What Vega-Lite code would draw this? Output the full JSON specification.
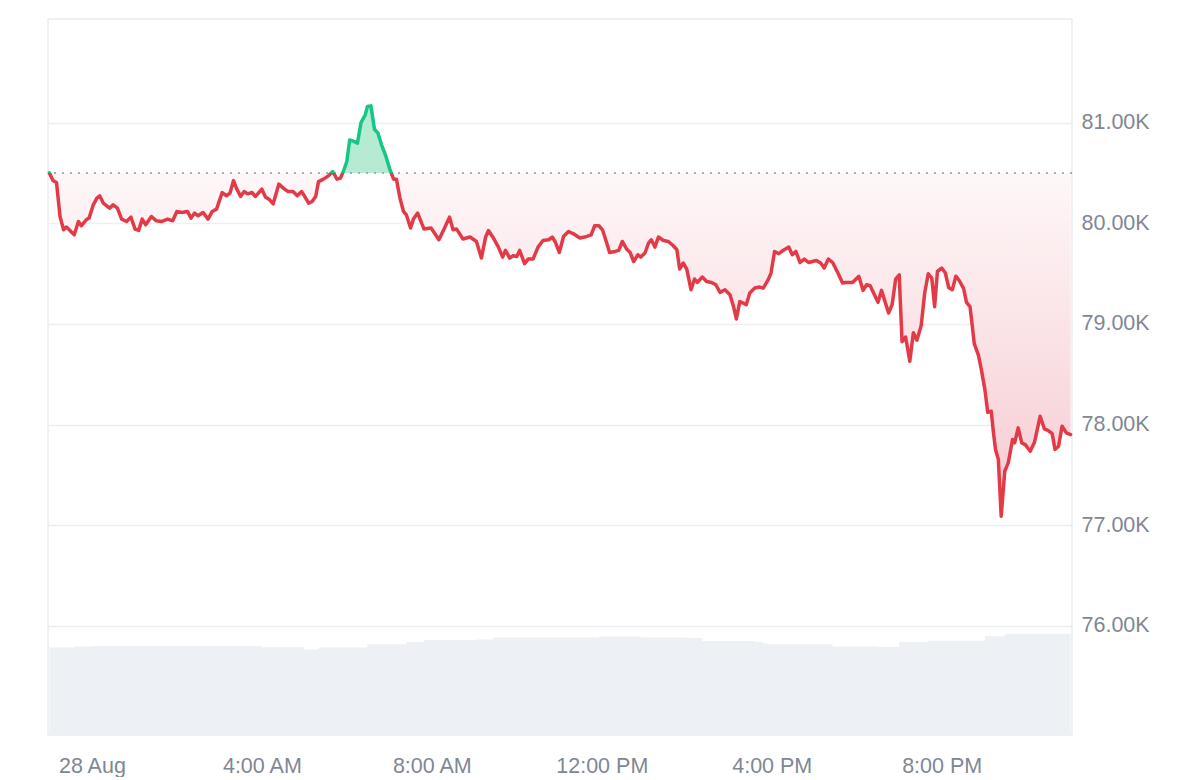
{
  "$schema": "https://vega.github.io/schema/vega-lite/v6.json",
  "width": 1024,
  "height": 716,
  "padding": {"left": 47, "top": 19, "right": 0, "bottom": 0},
  "background": "white",
  "config": {
    "font": "Liberation Sans",
    "view": {"stroke": "#e9ebee", "strokeWidth": 1.5}
  },
  "data": {
    "values": [
      {"t": "2025-08-27T23:00", "p": 80500, "v": 87.4}, {"t": "2025-08-27T23:05", "p": 80424, "v": 87.4},
      {"t": "2025-08-27T23:10", "p": 80405, "v": 87.4}, {"t": "2025-08-27T23:15", "p": 80067, "v": 87.4},
      {"t": "2025-08-27T23:20", "p": 79935, "v": 87.4}, {"t": "2025-08-27T23:24", "p": 79962, "v": 87.4},
      {"t": "2025-08-27T23:29", "p": 79928, "v": 87.4}, {"t": "2025-08-27T23:35", "p": 79885, "v": 88.5},
      {"t": "2025-08-27T23:41", "p": 80017, "v": 88.5}, {"t": "2025-08-27T23:45", "p": 79975, "v": 88.5},
      {"t": "2025-08-27T23:52", "p": 80034, "v": 88.5}, {"t": "2025-08-27T23:56", "p": 80051, "v": 88.5},
      {"t": "2025-08-28T00:02", "p": 80183, "v": 89}, {"t": "2025-08-28T00:07", "p": 80250, "v": 89},
      {"t": "2025-08-28T00:11", "p": 80273, "v": 89}, {"t": "2025-08-28T00:16", "p": 80200, "v": 89},
      {"t": "2025-08-28T00:25", "p": 80150, "v": 89}, {"t": "2025-08-28T00:30", "p": 80183, "v": 89},
      {"t": "2025-08-28T00:36", "p": 80150, "v": 89}, {"t": "2025-08-28T00:42", "p": 80041, "v": 89},
      {"t": "2025-08-28T00:49", "p": 80017, "v": 89}, {"t": "2025-08-28T00:55", "p": 80061, "v": 89},
      {"t": "2025-08-28T01:01", "p": 79942, "v": 89}, {"t": "2025-08-28T01:06", "p": 79928, "v": 89},
      {"t": "2025-08-28T01:11", "p": 80041, "v": 89}, {"t": "2025-08-28T01:16", "p": 79985, "v": 89},
      {"t": "2025-08-28T01:24", "p": 80067, "v": 89}, {"t": "2025-08-28T01:31", "p": 80024, "v": 89},
      {"t": "2025-08-28T01:38", "p": 80017, "v": 89}, {"t": "2025-08-28T01:47", "p": 80041, "v": 89},
      {"t": "2025-08-28T01:54", "p": 80024, "v": 89}, {"t": "2025-08-28T02:00", "p": 80117, "v": 89},
      {"t": "2025-08-28T02:07", "p": 80107, "v": 89}, {"t": "2025-08-28T02:15", "p": 80117, "v": 89},
      {"t": "2025-08-28T02:20", "p": 80051, "v": 89}, {"t": "2025-08-28T02:25", "p": 80101, "v": 89},
      {"t": "2025-08-28T02:30", "p": 80074, "v": 89}, {"t": "2025-08-28T02:37", "p": 80107, "v": 89},
      {"t": "2025-08-28T02:44", "p": 80041, "v": 89}, {"t": "2025-08-28T02:50", "p": 80117, "v": 89},
      {"t": "2025-08-28T02:56", "p": 80140, "v": 89}, {"t": "2025-08-28T03:04", "p": 80305, "v": 89},
      {"t": "2025-08-28T03:10", "p": 80273, "v": 89}, {"t": "2025-08-28T03:15", "p": 80299, "v": 89},
      {"t": "2025-08-28T03:20", "p": 80424, "v": 89}, {"t": "2025-08-28T03:24", "p": 80349, "v": 89},
      {"t": "2025-08-28T03:30", "p": 80266, "v": 89}, {"t": "2025-08-28T03:35", "p": 80315, "v": 89},
      {"t": "2025-08-28T03:40", "p": 80292, "v": 89}, {"t": "2025-08-28T03:46", "p": 80305, "v": 89},
      {"t": "2025-08-28T03:51", "p": 80266, "v": 89}, {"t": "2025-08-28T04:00", "p": 80339, "v": 87.7},
      {"t": "2025-08-28T04:05", "p": 80260, "v": 87.7}, {"t": "2025-08-28T04:11", "p": 80233, "v": 87.7},
      {"t": "2025-08-28T04:16", "p": 80193, "v": 87.7}, {"t": "2025-08-28T04:24", "p": 80389, "v": 87.7},
      {"t": "2025-08-28T04:32", "p": 80339, "v": 87.7}, {"t": "2025-08-28T04:37", "p": 80315, "v": 87.7},
      {"t": "2025-08-28T04:44", "p": 80315, "v": 87.7}, {"t": "2025-08-28T04:50", "p": 80273, "v": 87.7},
      {"t": "2025-08-28T04:56", "p": 80315, "v": 87.7}, {"t": "2025-08-28T05:00", "p": 80273, "v": 85.5},
      {"t": "2025-08-28T05:06", "p": 80200, "v": 85.5}, {"t": "2025-08-28T05:11", "p": 80216, "v": 85.5},
      {"t": "2025-08-28T05:16", "p": 80266, "v": 85.5}, {"t": "2025-08-28T05:20", "p": 80414, "v": 87.4},
      {"t": "2025-08-28T05:27", "p": 80438, "v": 87.4}, {"t": "2025-08-28T05:34", "p": 80471, "v": 87.4},
      {"t": "2025-08-28T05:40", "p": 80514, "v": 87.4}, {"t": "2025-08-28T05:46", "p": 80438, "v": 87.4},
      {"t": "2025-08-28T05:51", "p": 80448, "v": 87.4}, {"t": "2025-08-28T05:55", "p": 80514, "v": 87.4},
      {"t": "2025-08-28T06:00", "p": 80613, "v": 87.4}, {"t": "2025-08-28T06:04", "p": 80828, "v": 87.4},
      {"t": "2025-08-28T06:11", "p": 80811, "v": 87.4}, {"t": "2025-08-28T06:15", "p": 80796, "v": 87.4},
      {"t": "2025-08-28T06:20", "p": 81000, "v": 87.4}, {"t": "2025-08-28T06:26", "p": 81076, "v": 87.4},
      {"t": "2025-08-28T06:29", "p": 81159, "v": 90.7}, {"t": "2025-08-28T06:34", "p": 81166, "v": 90.7},
      {"t": "2025-08-28T06:39", "p": 80934, "v": 90.7}, {"t": "2025-08-28T06:44", "p": 80895, "v": 90.7},
      {"t": "2025-08-28T06:49", "p": 80779, "v": 90.7}, {"t": "2025-08-28T06:55", "p": 80669, "v": 90.7},
      {"t": "2025-08-28T07:01", "p": 80530, "v": 90.7}, {"t": "2025-08-28T07:06", "p": 80438, "v": 90.7},
      {"t": "2025-08-28T07:10", "p": 80438, "v": 90.7}, {"t": "2025-08-28T07:15", "p": 80250, "v": 90.7},
      {"t": "2025-08-28T07:20", "p": 80117, "v": 90.7}, {"t": "2025-08-28T07:24", "p": 80084, "v": 93},
      {"t": "2025-08-28T07:30", "p": 79952, "v": 93}, {"t": "2025-08-28T07:34", "p": 80041, "v": 93},
      {"t": "2025-08-28T07:40", "p": 80101, "v": 93}, {"t": "2025-08-28T07:49", "p": 79942, "v": 95},
      {"t": "2025-08-28T07:59", "p": 79952, "v": 95}, {"t": "2025-08-28T08:10", "p": 79836, "v": 95},
      {"t": "2025-08-28T08:18", "p": 79952, "v": 95}, {"t": "2025-08-28T08:25", "p": 80061, "v": 95},
      {"t": "2025-08-28T08:30", "p": 79935, "v": 95}, {"t": "2025-08-28T08:35", "p": 79942, "v": 95},
      {"t": "2025-08-28T08:44", "p": 79843, "v": 95}, {"t": "2025-08-28T08:54", "p": 79863, "v": 95},
      {"t": "2025-08-28T09:03", "p": 79819, "v": 95.5}, {"t": "2025-08-28T09:10", "p": 79654, "v": 95.5},
      {"t": "2025-08-28T09:16", "p": 79863, "v": 95.5}, {"t": "2025-08-28T09:20", "p": 79928, "v": 95.5},
      {"t": "2025-08-28T09:27", "p": 79853, "v": 97.4}, {"t": "2025-08-28T09:34", "p": 79763, "v": 97.4},
      {"t": "2025-08-28T09:40", "p": 79664, "v": 97.4}, {"t": "2025-08-28T09:44", "p": 79730, "v": 97.4},
      {"t": "2025-08-28T09:50", "p": 79654, "v": 97.4}, {"t": "2025-08-28T09:55", "p": 79677, "v": 97.4},
      {"t": "2025-08-28T10:00", "p": 79670, "v": 97.4}, {"t": "2025-08-28T10:04", "p": 79730, "v": 97.4},
      {"t": "2025-08-28T10:11", "p": 79598, "v": 97.4}, {"t": "2025-08-28T10:16", "p": 79644, "v": 97.4},
      {"t": "2025-08-28T10:23", "p": 79644, "v": 97.4}, {"t": "2025-08-28T10:30", "p": 79763, "v": 97.4},
      {"t": "2025-08-28T10:37", "p": 79829, "v": 97.4}, {"t": "2025-08-28T10:45", "p": 79836, "v": 97.4},
      {"t": "2025-08-28T10:50", "p": 79863, "v": 97.4}, {"t": "2025-08-28T10:54", "p": 79819, "v": 97.4},
      {"t": "2025-08-28T11:00", "p": 79710, "v": 97.4}, {"t": "2025-08-28T11:06", "p": 79869, "v": 97.4},
      {"t": "2025-08-28T11:13", "p": 79918, "v": 97.4}, {"t": "2025-08-28T11:20", "p": 79895, "v": 97.4},
      {"t": "2025-08-28T11:29", "p": 79853, "v": 97.4}, {"t": "2025-08-28T11:36", "p": 79863, "v": 97.4},
      {"t": "2025-08-28T11:45", "p": 79885, "v": 97.4}, {"t": "2025-08-28T11:50", "p": 79975, "v": 97.4},
      {"t": "2025-08-28T11:56", "p": 79975, "v": 98.4}, {"t": "2025-08-28T12:01", "p": 79935, "v": 98.4},
      {"t": "2025-08-28T12:07", "p": 79803, "v": 98.4}, {"t": "2025-08-28T12:11", "p": 79710, "v": 98.4},
      {"t": "2025-08-28T12:19", "p": 79720, "v": 98.4}, {"t": "2025-08-28T12:24", "p": 79730, "v": 98.4},
      {"t": "2025-08-28T12:29", "p": 79819, "v": 98.4}, {"t": "2025-08-28T12:35", "p": 79744, "v": 98.4},
      {"t": "2025-08-28T12:40", "p": 79710, "v": 98.4}, {"t": "2025-08-28T12:45", "p": 79620, "v": 98.4},
      {"t": "2025-08-28T12:51", "p": 79687, "v": 98.4}, {"t": "2025-08-28T12:55", "p": 79664, "v": 97.4},
      {"t": "2025-08-28T13:01", "p": 79704, "v": 97.4}, {"t": "2025-08-28T13:06", "p": 79803, "v": 97.4},
      {"t": "2025-08-28T13:10", "p": 79836, "v": 97.4}, {"t": "2025-08-28T13:15", "p": 79763, "v": 97.4},
      {"t": "2025-08-28T13:20", "p": 79863, "v": 97.4}, {"t": "2025-08-28T13:27", "p": 79829, "v": 97.4},
      {"t": "2025-08-28T13:34", "p": 79819, "v": 97.4}, {"t": "2025-08-28T13:41", "p": 79776, "v": 97.4},
      {"t": "2025-08-28T13:46", "p": 79737, "v": 97.4}, {"t": "2025-08-28T13:50", "p": 79545, "v": 97.4},
      {"t": "2025-08-28T13:55", "p": 79605, "v": 97.4}, {"t": "2025-08-28T14:00", "p": 79545, "v": 97},
      {"t": "2025-08-28T14:06", "p": 79340, "v": 97}, {"t": "2025-08-28T14:11", "p": 79446, "v": 97},
      {"t": "2025-08-28T14:15", "p": 79412, "v": 97}, {"t": "2025-08-28T14:22", "p": 79466, "v": 94},
      {"t": "2025-08-28T14:28", "p": 79422, "v": 94}, {"t": "2025-08-28T14:35", "p": 79412, "v": 94},
      {"t": "2025-08-28T14:41", "p": 79389, "v": 94}, {"t": "2025-08-28T14:47", "p": 79313, "v": 94},
      {"t": "2025-08-28T14:54", "p": 79340, "v": 94}, {"t": "2025-08-28T15:01", "p": 79290, "v": 94},
      {"t": "2025-08-28T15:06", "p": 79174, "v": 94}, {"t": "2025-08-28T15:10", "p": 79049, "v": 94},
      {"t": "2025-08-28T15:15", "p": 79223, "v": 94}, {"t": "2025-08-28T15:24", "p": 79191, "v": 94},
      {"t": "2025-08-28T15:29", "p": 79307, "v": 94}, {"t": "2025-08-28T15:36", "p": 79356, "v": 93},
      {"t": "2025-08-28T15:43", "p": 79366, "v": 93}, {"t": "2025-08-28T15:48", "p": 79356, "v": 91.5},
      {"t": "2025-08-28T15:55", "p": 79439, "v": 90.7}, {"t": "2025-08-28T15:59", "p": 79505, "v": 90.7},
      {"t": "2025-08-28T16:04", "p": 79720, "v": 90.7}, {"t": "2025-08-28T16:10", "p": 79697, "v": 90.7},
      {"t": "2025-08-28T16:16", "p": 79730, "v": 90.7}, {"t": "2025-08-28T16:24", "p": 79763, "v": 90.7},
      {"t": "2025-08-28T16:29", "p": 79687, "v": 90.7}, {"t": "2025-08-28T16:34", "p": 79720, "v": 90.7},
      {"t": "2025-08-28T16:40", "p": 79610, "v": 90.7}, {"t": "2025-08-28T16:46", "p": 79644, "v": 90.7},
      {"t": "2025-08-28T16:52", "p": 79610, "v": 90.7}, {"t": "2025-08-28T17:03", "p": 79630, "v": 90.7},
      {"t": "2025-08-28T17:09", "p": 79605, "v": 90.7}, {"t": "2025-08-28T17:14", "p": 79555, "v": 90.7},
      {"t": "2025-08-28T17:20", "p": 79644, "v": 90.7}, {"t": "2025-08-28T17:26", "p": 79610, "v": 88.4},
      {"t": "2025-08-28T17:34", "p": 79498, "v": 88.4}, {"t": "2025-08-28T17:40", "p": 79406, "v": 88.4},
      {"t": "2025-08-28T17:44", "p": 79412, "v": 88.4}, {"t": "2025-08-28T17:54", "p": 79412, "v": 88.4},
      {"t": "2025-08-28T18:03", "p": 79472, "v": 88.4}, {"t": "2025-08-28T18:09", "p": 79333, "v": 88.4},
      {"t": "2025-08-28T18:14", "p": 79389, "v": 88.4}, {"t": "2025-08-28T18:19", "p": 79379, "v": 88.4},
      {"t": "2025-08-28T18:30", "p": 79214, "v": 88}, {"t": "2025-08-28T18:35", "p": 79333, "v": 88},
      {"t": "2025-08-28T18:45", "p": 79108, "v": 88}, {"t": "2025-08-28T18:50", "p": 79191, "v": 88},
      {"t": "2025-08-28T18:55", "p": 79446, "v": 88}, {"t": "2025-08-28T19:00", "p": 79488, "v": 93},
      {"t": "2025-08-28T19:04", "p": 78823, "v": 93}, {"t": "2025-08-28T19:09", "p": 78870, "v": 93},
      {"t": "2025-08-28T19:15", "p": 78628, "v": 93}, {"t": "2025-08-28T19:20", "p": 78913, "v": 93},
      {"t": "2025-08-28T19:25", "p": 78838, "v": 93}, {"t": "2025-08-28T19:31", "p": 78982, "v": 93},
      {"t": "2025-08-28T19:36", "p": 79307, "v": 93}, {"t": "2025-08-28T19:41", "p": 79498, "v": 94.2},
      {"t": "2025-08-28T19:46", "p": 79456, "v": 94.2}, {"t": "2025-08-28T19:50", "p": 79171, "v": 94.2},
      {"t": "2025-08-28T19:54", "p": 79521, "v": 94.2}, {"t": "2025-08-28T20:00", "p": 79555, "v": 94.2},
      {"t": "2025-08-28T20:05", "p": 79508, "v": 94.2}, {"t": "2025-08-28T20:10", "p": 79359, "v": 94.2},
      {"t": "2025-08-28T20:15", "p": 79340, "v": 94.2}, {"t": "2025-08-28T20:20", "p": 79474, "v": 94.2},
      {"t": "2025-08-28T20:25", "p": 79429, "v": 94.2}, {"t": "2025-08-28T20:31", "p": 79350, "v": 94.2},
      {"t": "2025-08-28T20:35", "p": 79214, "v": 94.2}, {"t": "2025-08-28T20:40", "p": 79171, "v": 94.2},
      {"t": "2025-08-28T20:43", "p": 78992, "v": 94.2}, {"t": "2025-08-28T20:46", "p": 78804, "v": 94.2},
      {"t": "2025-08-28T20:52", "p": 78685, "v": 94.2}, {"t": "2025-08-28T20:56", "p": 78546, "v": 94.2},
      {"t": "2025-08-28T21:01", "p": 78347, "v": 98.7}, {"t": "2025-08-28T21:05", "p": 78122, "v": 98.7},
      {"t": "2025-08-28T21:10", "p": 78132, "v": 98.7}, {"t": "2025-08-28T21:13", "p": 77923, "v": 98.7},
      {"t": "2025-08-28T21:16", "p": 77752, "v": 98.7}, {"t": "2025-08-28T21:20", "p": 77652, "v": 98.7},
      {"t": "2025-08-28T21:24", "p": 77090, "v": 98.7}, {"t": "2025-08-28T21:29", "p": 77536, "v": 101.2},
      {"t": "2025-08-28T21:34", "p": 77620, "v": 101.2}, {"t": "2025-08-28T21:40", "p": 77851, "v": 101.2},
      {"t": "2025-08-28T21:43", "p": 77818, "v": 101.2}, {"t": "2025-08-28T21:48", "p": 77967, "v": 101.2},
      {"t": "2025-08-28T21:53", "p": 77818, "v": 101.2}, {"t": "2025-08-28T21:58", "p": 77801, "v": 101.2},
      {"t": "2025-08-28T22:05", "p": 77735, "v": 101.2}, {"t": "2025-08-28T22:11", "p": 77824, "v": 101.2},
      {"t": "2025-08-28T22:19", "p": 78082, "v": 101.2}, {"t": "2025-08-28T22:25", "p": 77957, "v": 101.2},
      {"t": "2025-08-28T22:30", "p": 77943, "v": 101.2}, {"t": "2025-08-28T22:36", "p": 77910, "v": 101.2},
      {"t": "2025-08-28T22:40", "p": 77752, "v": 101.2}, {"t": "2025-08-28T22:45", "p": 77784, "v": 101.2},
      {"t": "2025-08-28T22:50", "p": 77983, "v": 101.2}, {"t": "2025-08-28T22:56", "p": 77917, "v": 101.2},
      {"t": "2025-08-28T23:02", "p": 77900, "v": 101.2}
    ]
  },
  "encoding": {
    "x": {
      "field": "t",
      "type": "temporal",
      "title": null,
      "scale": {
        "domain": [
          {"year": 2025, "month": 8, "date": 27, "hours": 22, "minutes": 58},
          {"year": 2025, "month": 8, "date": 28, "hours": 23, "minutes": 4}
        ]
      },
      "axis": {
        "values": [
          {"year": 2025, "month": 8, "date": 28, "hours": 0},
          {"year": 2025, "month": 8, "date": 28, "hours": 4},
          {"year": 2025, "month": 8, "date": 28, "hours": 8},
          {"year": 2025, "month": 8, "date": 28, "hours": 12},
          {"year": 2025, "month": 8, "date": 28, "hours": 16},
          {"year": 2025, "month": 8, "date": 28, "hours": 20}
        ],
        "labelExpr": "hours(datum.value) == 0 ? timeFormat(datum.value, '%-d %b') : timeFormat(datum.value, '%-I:%M %p')",
        "grid": false,
        "domain": false,
        "ticks": false,
        "labelFontSize": 21.5,
        "labelColor": "#7f8793",
        "labelPadding": 20,
        "labelFlush": false,
        "labelOverlap": false
      }
    }
  },
  "layer": [
    {
      "mark": {"type": "area", "interpolate": "step-after", "color": "#edf0f4"},
      "encoding": {
        "y": {"field": "v", "type": "quantitative", "scale": {"domain": [0, 716]}, "axis": null}
      }
    },
    {
      "mark": {
        "type": "area",
        "fill": {
          "gradient": "linear",
          "x1": 0, "y1": 0, "x2": 0, "y2": 1,
          "stops": [
            {"offset": 0, "color": "#b6ebd3"},
            {"offset": 0.1634, "color": "#b6ebd3"},
            {"offset": 0.1634, "color": "#fef7f8"},
            {"offset": 1, "color": "#f6cbd1"}
          ]
        }
      },
      "encoding": {
        "y": {"field": "p", "type": "quantitative", "scale": {"domain": [74916, 82029], "zero": false, "nice": false}, "axis": null},
        "y2": {"datum": 80500}
      }
    },
    {
      "data": {"values": [{"base": 80500}]},
      "mark": {"type": "rule", "color": "#8f959e", "strokeWidth": 1.5, "strokeDash": [2, 6]},
      "encoding": {
        "x": null,
        "y": {"field": "base", "type": "quantitative", "scale": {"domain": [74916, 82029], "zero": false, "nice": false}, "axis": null}
      }
    },
    {
      "mark": {
        "type": "line",
        "strokeWidth": 3.5,
        "strokeJoin": "round",
        "strokeCap": "round",
        "stroke": {
          "gradient": "linear",
          "x1": 0, "y1": 0, "x2": 0, "y2": 1,
          "stops": [
            {"offset": 0, "color": "#16c784"},
            {"offset": 0.1634, "color": "#16c784"},
            {"offset": 0.1634, "color": "#e33a48"},
            {"offset": 1, "color": "#e33a48"}
          ]
        }
      },
      "encoding": {
        "y": {
          "field": "p",
          "type": "quantitative",
          "title": null,
          "scale": {"domain": [74916, 82029], "zero": false, "nice": false},
          "axis": {
            "orient": "right",
            "values": [76000, 77000, 78000, 79000, 80000, 81000],
            "labelExpr": "format(datum.value / 1000, '.2f') + 'K'",
            "domain": false,
            "ticks": false,
            "grid": true,
            "gridColor": "#eceef1",
            "gridWidth": 1.5,
            "labelFontSize": 21.5,
            "labelColor": "#7f8793",
            "labelPadding": 9
          }
        }
      }
    }
  ],
  "resolve": {"scale": {"y": "independent"}}
}
